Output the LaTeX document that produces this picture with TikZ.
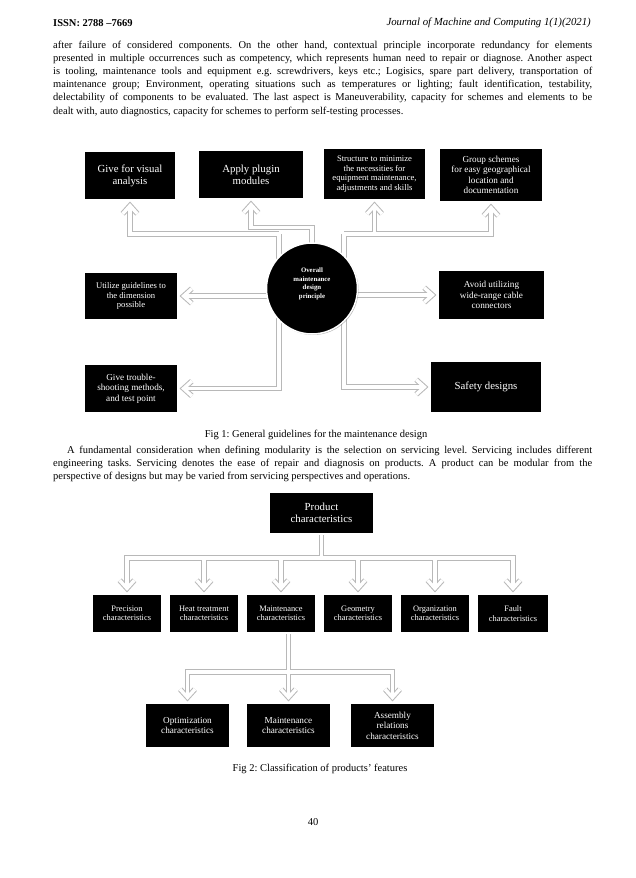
\documentclass[tikz,border=0pt]{standalone}
\usepackage{fontspec}
\setmainfont{Liberation Serif}
\usetikzlibrary{shadows,backgrounds,calc}
\frenchspacing
\newcommand\bodyf{\fontsize{10.5}{13.2}\selectfont}
\newcommand\bodyg{\fontsize{10.5}{12.8}\selectfont}
\newcommand\jline[1]{\hbox to 539pt{#1}}
\newcommand\jlast[1]{\hbox to 539pt{#1\hfil}}
\tikzset{
  blk/.style={fill=black, draw=white, line width=1.2pt, text=white, align=center, inner sep=2pt,
    drop shadow={shadow xshift=1pt, shadow yshift=-1pt, opacity=0.3, fill=black}},
  fbig/.style={font=\fontsize{10.8}{12}\selectfont},
  fmid/.style={font=\fontsize{9.2}{10.4}\selectfont},
  fsmall/.style={font=\fontsize{8.6}{9.4}\selectfont},
  frow/.style={font=\fontsize{8.4}{9.4}\selectfont},
  cg/.style={line width=5.4pt, draw=black!28, line join=miter},
  cw/.style={line width=3.4pt, draw=white, line join=miter},
}
% chevron arrowhead: style, apex, direction of pointing
\newcommand\chev[3]{\draw[#1] ($(#2)+(#3+180-42:11)$) -- (#2) -- ($(#2)+(#3+180+42:11)$);}
\newcommand\allconn[1]{%
  \draw[#1] (jL) -| (a1);
  \draw[#1] (jL) |- (a7);
  \draw[#1] (c.center) -- (jM) -| (a2);
  \draw[#1] (jR) -| (a3);
  \draw[#1] (jR) -| (a4);
  \draw[#1] (jR) |- (a8);
  \draw[#1] (c.center |- a5) -- (a5);
  \draw[#1] (c.center |- a6) -- (a6);
  \foreach \i in {1,2,3,4} {\chev{#1}{a\i}{-90}}
  \chev{#1}{a5}{180}\chev{#1}{a7}{180}
  \chev{#1}{a6}{0}\chev{#1}{a8}{0}
  \foreach \i in {1,...,6} {\draw[#1] (p.south) -- (jP) -| (qa\i); \chev{#1}{qa\i}{90}}
  \foreach \i in {1,2,3} {\draw[#1] (jQt) -- (jQ) -| (ra\i); \chev{#1}{ra\i}{90}}
}
\begin{document}
\begin{tikzpicture}[x=1pt, y=-1pt]
\useasboundingbox (0,0) rectangle (636,878);

% header
\node[anchor=west, inner sep=0pt, font=\fontsize{10.5}{12}\selectfont\bfseries] (issn) at (53,23) {ISSN: 2788 –7669};
\node[anchor=east, inner sep=0pt, font=\fontsize{10.8}{12}\selectfont\itshape] (jour) at (591,23) {Journal of Machine and Computing 1(1)(2021)};

% paragraph 1
\node[anchor=north west, inner sep=0pt, font=\bodyf] (para1) at (53,40.5) {\vbox{%
\jline{after failure of considered components. On the other hand, contextual principle incorporate redundancy for elements}
\jline{presented in multiple occurrences such as competency, which represents human need to repair or diagnose. Another aspect}
\jline{is tooling, maintenance tools and equipment e.g. screwdrivers, keys etc.; Logisics, spare part delivery, transportation of}
\jline{maintenance group; Environment, operating situations such as temperatures or lighting; fault identification, testability,}
\jline{delectability of components to be evaluated. The last aspect is Maneuverability, capacity for schemes and elements to be}
\jlast{dealt with, auto diagnostics, capacity for schemes to perform self-testing processes.}}};

% figure 1
\node[blk, fbig, minimum width=92pt, minimum height=49pt] (b1) at (130,175.5) {Give for visual\\analysis};
\node[blk, fbig, minimum width=106pt, minimum height=49pt] (b2) at (251,174.5) {Apply plugin\\modules};
\node[blk, fsmall, minimum width=103pt, minimum height=52pt] (b3) at (374.5,174) {Structure to minimize\\the necessities for\\equipment maintenance,\\adjustments and skills};
\node[blk, fmid, minimum width=104pt, minimum height=54pt] (b4) at (491,175) {Group schemes\\for easy geographical\\location and\\documentation};
\node[blk, fsmall, minimum width=94pt, minimum height=48pt] (b5) at (131,296) {Utilize guidelines to\\the dimension\\possible};
\node[blk, fmid, minimum width=107pt, minimum height=50pt] (b6) at (491.5,295) {Avoid utilizing\\wide-range cable\\connectors};
\node[blk, fmid, minimum width=94pt, minimum height=49pt] (b7) at (131,388.5) {Give trouble-\\shooting methods,\\and test point};
\node[blk, fbig, minimum width=112pt, minimum height=52pt] (b8) at (486,387) {Safety designs};
\node[circle, fill=black, draw=white, line width=1.5pt, minimum size=91pt, inner sep=0pt, text=white, align=center,
  font=\fontsize{6.8}{8.5}\selectfont\bfseries,
  drop shadow={shadow xshift=1pt, shadow yshift=-1pt, opacity=0.3, fill=black}] (c) at (312,288.5) {Overall\\maintenance\\design\\principle\\[2pt]};
\coordinate (jL) at (279,234);
\coordinate (jM) at (312,227.5);
\coordinate (jR) at (344,234);
\foreach \i in {1,2,3,4} {\coordinate (a\i) at ($(b\i.south)+(0,5)$);}
\coordinate (a5) at ($(b5.east)+(5,0)$);
\coordinate (a7) at ($(b7.east)+(5,0)$);
\coordinate (a6) at ($(b6.west)+(-5,0)$);
\coordinate (a8) at ($(b8.west)+(-5,0)$);

\node[font=\fontsize{10.5}{12}\selectfont, inner sep=0pt] (cap1) at (316,434.5) {Fig 1: General guidelines for the maintenance design};

% paragraph 2
\node[anchor=north west, inner sep=0pt, font=\bodyg] (para2) at (53,446) {\vbox{%
\jline{\hspace*{14pt}A fundamental consideration when defining modularity is the selection on servicing level. Servicing includes different}
\jline{engineering tasks. Servicing denotes the ease of repair and diagnosis on products. A product can be modular from the}
\jlast{perspective of designs but may be varied from servicing perspectives and operations.}}};

% figure 2
\node[blk, fbig, minimum width=105pt, minimum height=42pt] (p) at (321.5,513) {Product\\characteristics};
\node[blk, frow, minimum width=70pt, minimum height=39pt] (q1) at (127,613.5) {Precision\\characteristics};
\node[blk, frow, minimum width=70pt, minimum height=39pt] (q2) at (204,613.5) {Heat treatment\\characteristics};
\node[blk, frow, minimum width=70pt, minimum height=39pt] (q3) at (281,613.5) {Maintenance\\characteristics};
\node[blk, frow, minimum width=70pt, minimum height=39pt] (q4) at (358,613.5) {Geometry\\characteristics};
\node[blk, frow, minimum width=70pt, minimum height=39pt] (q5) at (435,613.5) {Organization\\characteristics};
\node[blk, frow, minimum width=72pt, minimum height=39pt] (q6) at (513,613.5) {Fault\\characteristics};
\node[blk, fmid, minimum width=85pt, minimum height=45pt] (r1) at (187.5,725.5) {Optimization\\characteristics};
\node[blk, fmid, minimum width=85pt, minimum height=45pt] (r2) at (288.5,725.5) {Maintenance\\characteristics};
\node[blk, fmid, minimum width=85pt, minimum height=45pt] (r3) at (392.5,725.5) {Assembly\\relations\\characteristics};
\coordinate (jP) at (p.south |- 0,558);
\coordinate (jQt) at (288.5,625);
\coordinate (jQ) at (288.5,672);
\foreach \i in {1,...,6} {\coordinate (qa\i) at ($(q\i.north)+(0,-5)$);}
\foreach \i in {1,2,3} {\coordinate (ra\i) at ($(r\i.north)+(0,-5)$);}

\node[font=\fontsize{10.5}{12}\selectfont, inner sep=0pt] (cap2) at (320,769) {Fig 2: Classification of products’ features};
\node[font=\fontsize{10.5}{12}\selectfont, inner sep=0pt] (pg) at (313,822) {40};

\begin{scope}[on background layer]
  \fill[white] (0,0) rectangle (636,878);
  \allconn{cg}
  \allconn{cw}
\end{scope}
\end{tikzpicture}
\end{document}
